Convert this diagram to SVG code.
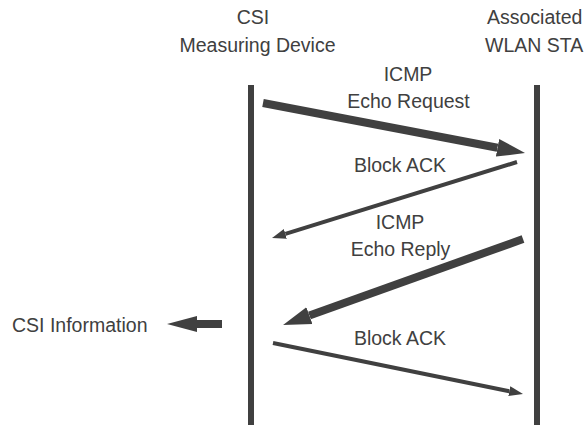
<svg xmlns="http://www.w3.org/2000/svg" width="586" height="425" viewBox="0 0 586 425">
<style>
text{font-family:"Liberation Sans",Arial,sans-serif;font-size:19.5px;fill:#404040}
.m{text-anchor:middle}
.life{stroke:#404040;stroke-width:6;fill:none}
.thick{stroke:#404040;stroke-width:8;fill:none}
.thin{stroke:#404040;stroke-width:4;fill:none}
</style>
<defs>
<marker id="big" markerUnits="userSpaceOnUse" markerWidth="30" markerHeight="20" viewBox="0 -10 30 20" refX="0" refY="0" orient="auto">
<path d="M0,-9 L28,0 L0,9 z" fill="#404040"/>
</marker>
<marker id="small" markerUnits="userSpaceOnUse" markerWidth="16" markerHeight="12" viewBox="0 -6 16 12" refX="0" refY="0" orient="auto">
<path d="M0,-5 L14,0 L0,5 z" fill="#404040"/>
</marker>
</defs>
<g id="csi-device">
<text class="m" x="253" y="24">CSI</text>
<text class="m" x="257.5" y="52">Measuring Device</text>
<line class="life" x1="251" y1="85" x2="251" y2="425"/>
</g>
<g id="wlan-sta">
<text x="487" y="24">Associated</text>
<text x="485" y="52">WLAN STA</text>
<line class="life" x1="537" y1="85" x2="537" y2="425"/>
</g>
<g id="csi-info">
<text x="12" y="332">CSI Information</text>
<polygon points="167,324 197,316 197,320 222,320 222,328 197,328 197,332" fill="#404040"/>
</g>
<g id="connectors">
<line class="thick" x1="263" y1="103" x2="497.5" y2="147.8" marker-end="url(#big)"/>
<line class="thin" x1="517" y1="162" x2="285.4" y2="233.9" marker-end="url(#small)"/>
<line class="thick" x1="523" y1="239" x2="309.4" y2="315.6" marker-end="url(#big)"/>
<line class="thin" x1="273" y1="343" x2="509.3" y2="391.2" marker-end="url(#small)"/>
</g>
<g id="labels">
<text class="m" x="408" y="81">ICMP</text>
<text class="m" x="408.5" y="108">Echo Request</text>
<text class="m" x="400" y="172">Block ACK</text>
<text class="m" x="400" y="229">ICMP</text>
<text class="m" x="400.5" y="256">Echo Reply</text>
<text class="m" x="400" y="345">Block ACK</text>
</g>
</svg>
